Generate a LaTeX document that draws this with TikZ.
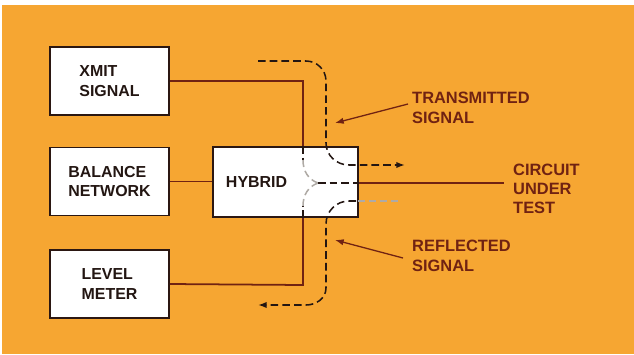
\documentclass[tikz,border=0pt]{standalone}
\usepackage{fontspec}
\setmainfont{Liberation Sans}
\usetikzlibrary{arrows.meta,positioning,calc}
\definecolor{paper}{RGB}{246,166,50}
\definecolor{rust}{RGB}{112,34,18}
\definecolor{ink}{RGB}{35,22,18}
\definecolor{faint}{RGB}{175,170,165}
\tikzset{
  >={Latex[length=2.6mm,width=1.9mm]},
  block/.style={draw=ink!90!rust,fill=white,line width=1.5pt,minimum width=3.57cm,
    minimum height=2.04cm,align=left,font=\fontsize{13.6}{16.5}\selectfont\bfseries,text=ink},
  wire/.style={draw=rust,line width=1.5pt},
  path dash/.style={draw=ink,line width=1.3pt,dash pattern=on 6.5pt off 3.5pt},
  ghost dash/.style={draw=faint,line width=1.3pt,dash pattern=on 6pt off 3.5pt},
  note/.style={font=\fontsize{14}{16.5}\selectfont\bfseries,text=rust,align=left,anchor=west,inner sep=0pt},
  pointer/.style={->,draw=rust,line width=1.1pt},
}
\begin{document}
\begin{tikzpicture}[x=0.03cm,y=-0.03cm]
  \useasboundingbox (0,0) rectangle (634,354);
  \fill[paper] (2,5) rectangle (634,354);

  \node[block] (xmit) at (109.5,81) {XMIT\\SIGNAL};
  \node[block] (balance) at (109.5,181.5) {BALANCE\\NETWORK};
  \node[block] (level) at (109.5,284) {LEVEL\\METER};
  \node[block,text width=3.57cm,inner xsep=0.39cm,minimum height=2.1cm] (hybrid) at (285.5,182) {HYBRID};

  \coordinate (top) at (303,81);
  \coordinate (bot) at (303,285);
  \coordinate (mid) at (318,183);
  \coordinate (cut) at (504,183);

  % lines to the hybrid
  \draw[wire] (xmit.east) -- (top) -- (top |- hybrid.north);
  \draw[wire] (level.east) -- (bot) -- (bot |- hybrid.south);
  \draw[wire] (balance.east) -- (balance.east -| hybrid.west);
  \draw[wire] (mid -| hybrid.east) -- (cut);

  % inside the hybrid
  \draw[path dash] (top |- hybrid.north) -- (303,160);
  \draw[path dash] (bot |- hybrid.south) -- (303,206);
  \draw[ghost dash] (303,160) to[out=-90,in=160] (mid);
  \draw[ghost dash] (303,206) to[out=90,in=-160] (mid);
  \draw[path dash] (mid) -- (mid -| hybrid.east);
  \draw[ghost dash] (358,201) -- (400,201);

  % transmitted and reflected paths
  \draw[path dash,->] (258,61) -- (306,61) to[out=0,in=90] (326,81) -- (326,143)
    to[out=-90,in=180] (349,165) -- (405,165);
  \draw[path dash,->] (356,201) -- (349,201) to[out=180,in=90] (326,224) -- (326,288)
    to[out=-90,in=0] (306,305) -- (258,305);

  \node[note] (tx) at (412,108) {TRANSMITTED\\SIGNAL};
  \node[note] (rx) at (412,256) {REFLECTED\\SIGNAL};
  \node[note] (cut label) at (513,189) {CIRCUIT\\UNDER\\TEST};
  \draw[pointer] (tx.west) ++(-4,-4) -- (335,123);
  \draw[pointer] (rx.west) ++(-9,2) -- (335,240);
\end{tikzpicture}
\end{document}
